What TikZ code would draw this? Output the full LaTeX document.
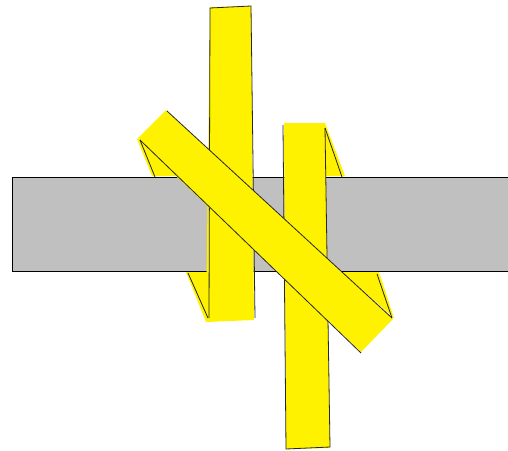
\documentclass[tikz,border=0pt]{standalone}
\usepackage{tikz}
\usetikzlibrary{calc}
\definecolor{stripyellow}{RGB}{255,242,0}
\definecolor{bargray}{RGB}{192,192,192}

\begin{document}
\begin{tikzpicture}[
  x=1pt, y=-1pt,
  bar/.style={fill=bargray, draw=black, line width=0.7pt},
  strip/.style={fill=stripyellow, draw=none},
  edge/.style={draw=black!85, line width=0.8pt}
]
\useasboundingbox (0,0) rectangle (508,450);

% corners of the three strips
\coordinate (lefttopL) at (210,7);
\coordinate (lefttopR) at (251,6);
\coordinate (leftbotR) at (254,320);
\coordinate (leftbotL) at (206,322);
\coordinate (righttopL) at (284,123);
\coordinate (righttopR) at (325,123);
\coordinate (rightbotR) at (330,448);
\coordinate (rightbotL) at (286,449);
\coordinate (diagA) at (137,139);
\coordinate (diagB) at (166,110);
\coordinate (diagC) at (393,319);
\coordinate (diagD) at (361,352);

% the bar
\draw[bar] (12,177) rectangle (508,271);

% left strip and its fold
\fill[strip] (lefttopL) -- (lefttopR) -- (leftbotR) -- (leftbotL) -- cycle;
\fill[strip] (186,272) -- (209,272) -- (leftbotL) -- cycle;
\draw[edge] (188,273) -- (208,318);
\draw[edge] (209,318) -- (210,8) -- (251,6) -- (255,318);

% right strip and its fold
\fill[strip] (righttopL) -- (righttopR) -- (rightbotR) -- (rightbotL) -- cycle;
\fill[strip] (righttopR) -- (345,176) -- (325,176) -- cycle;
\draw[edge] (325,128) -- (342,177);
\draw[edge] (283,125) -- (286,449) -- (330,447) -- (325,128);

% diagonal strip and its folds
\fill[strip] (diagA) -- (152,176) -- (178,176) -- cycle;
\fill[strip] (342,272) -- (379,272) -- (394,318) -- cycle;
\fill[strip] (diagA) -- (diagB) -- (diagC) -- (diagD) -- cycle;
\draw[edge] (140,140) -- (155,177);
\draw[edge] (377,274) -- (392,318);
\draw[edge] (167,111) -- (392,318);
\draw[edge] (140,140) -- (361,353);
\end{tikzpicture}
\end{document}
